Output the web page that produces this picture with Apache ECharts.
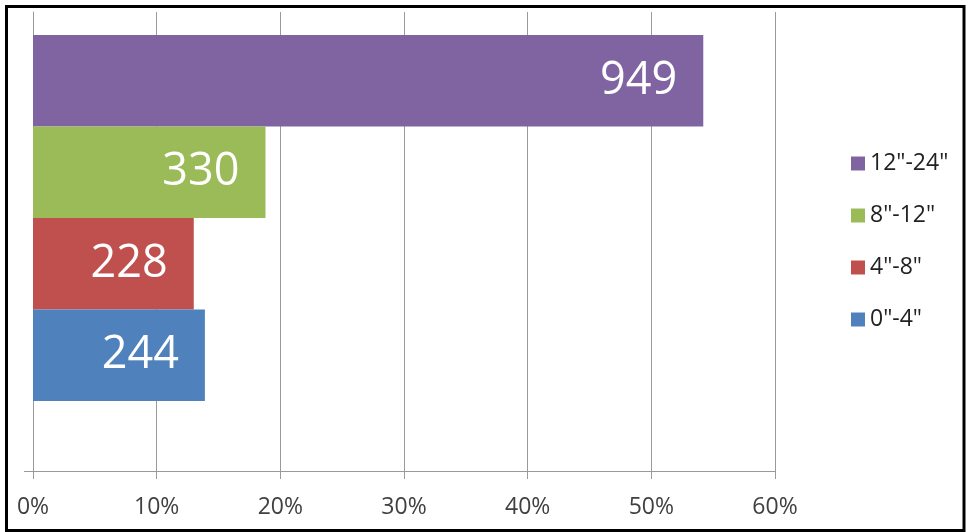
<!DOCTYPE html>
<html>
<head>
<meta charset="utf-8">
<script src="https://cdn.jsdelivr.net/npm/echarts@6/dist/echarts.min.js"></script>
<style>html,body{margin:0;padding:0;background:#fff;}#c{width:969px;height:532px;}</style>
</head>
<body>
<div id="c"></div>
<script>
// Series (top to bottom, as drawn): names, colours, bar lengths (%) and the counts shown on the bars
var seriesNames = ['12"-24"', '8"-12"', '4"-8"', '0"-4"'];
var seriesColors = ['#8064A2', '#9BBB59', '#C0504D', '#4F81BD'];
var percentValues = [54.2, 18.8, 13.0, 13.9];
var countLabels = [949, 330, 228, 244];
var xTicks = [0, 10, 20, 30, 40, 50, 60];

var chart = echarts.init(document.getElementById('c'), null, {renderer: 'canvas'});
var FONT = '"Open Sans", sans-serif';
var series = seriesNames.map(function (name, i) {
  return {
    name: name,
    type: 'bar',
    xAxisIndex: 1,
    yAxisIndex: 1,
    barGap: '0%',
    barCategoryGap: '0%',
    itemStyle: {color: seriesColors[i]},
    label: {
      show: true,
      position: 'insideRight',
      distance: 26,
      color: '#ffffff',
      fontSize: 45,
      fontFamily: FONT,
      formatter: function () { return String(countLabels[i]); }
    },
    data: [percentValues[i]]
  };
});

chart.setOption({
  animation: false,
  backgroundColor: '#ffffff',
  graphic: [{
    type: 'rect',
    shape: {x: 6.5, y: 6.5, width: 957.5, height: 524},
    style: {fill: null, stroke: '#000000', lineWidth: 3},
    silent: true,
    z: 100
  }],
  legend: {
    orient: 'vertical',
    left: 846,
    top: 147,
    itemWidth: 14,
    itemHeight: 14,
    itemGap: 29,
    icon: 'rect',
    data: seriesNames,
    textStyle: {fontFamily: FONT, fontSize: 23, color: '#222222', lineHeight: 22, padding: [0, 0, 0, 0]}
  },
  grid: [
    {left: 33, right: 194, top: 12, bottom: 61, containLabel: false},
    {left: 33, right: 194, top: 35, bottom: 131, containLabel: false}
  ],
  xAxis: [
    {
      gridIndex: 0,
      type: 'value',
      min: xTicks[0],
      max: xTicks[xTicks.length - 1],
      interval: 10,
      axisLine: {show: true, lineStyle: {color: '#9a9a9a', width: 1}},
      axisTick: {show: true, length: 8, lineStyle: {color: '#9a9a9a'}},
      splitLine: {show: true, lineStyle: {color: '#9a9a9a', width: 1}},
      axisLabel: {
        margin: 25,
        fontFamily: FONT,
        fontSize: 23,
        color: '#404040',
        formatter: function (v) { return v + '%'; }
      }
    },
    {
      gridIndex: 1,
      type: 'value',
      min: xTicks[0],
      max: xTicks[xTicks.length - 1],
      show: false,
      splitLine: {show: false}
    }
  ],
  yAxis: [
    {
      gridIndex: 0,
      type: 'value',
      min: 0,
      max: 1,
      interval: 1,
      axisLine: {show: true, lineStyle: {color: '#9a9a9a', width: 1}},
      axisTick: {show: true, length: 9, customValues: [0], lineStyle: {color: '#9a9a9a'}},
      axisLabel: {show: false},
      splitLine: {show: false}
    },
    {
      gridIndex: 1,
      type: 'category',
      data: [''],
      show: false
    }
  ],
  series: series
});
</script>
</body>
</html>
